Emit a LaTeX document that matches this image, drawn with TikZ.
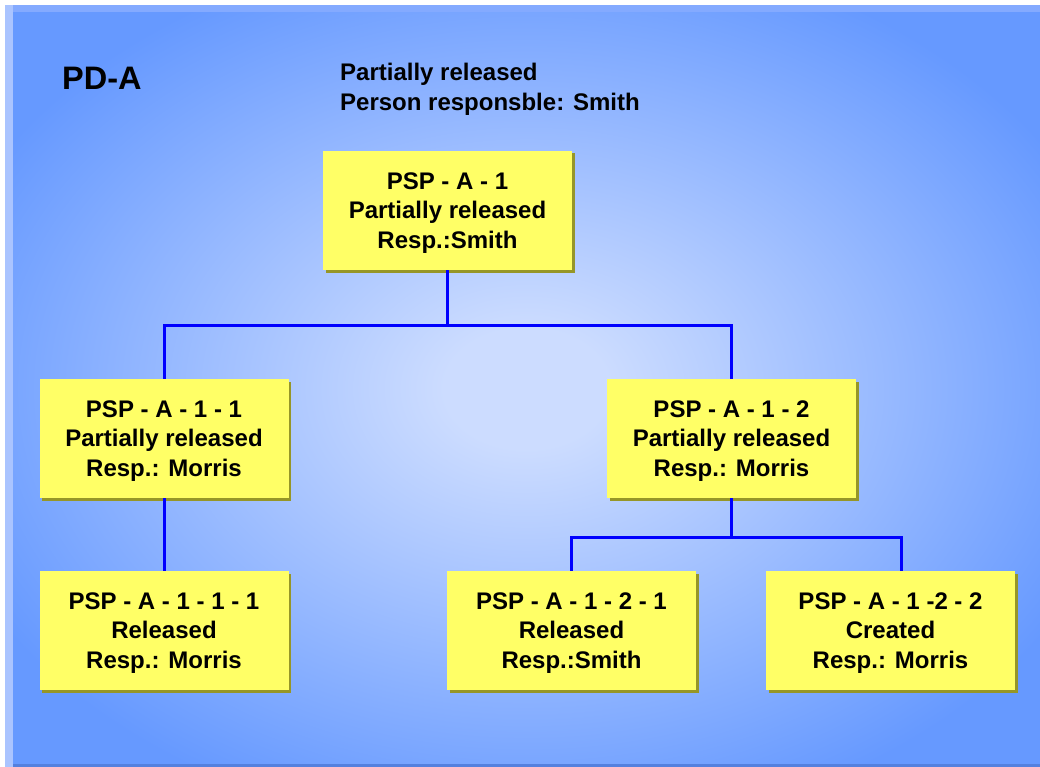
\documentclass[tikz,border=0pt]{standalone}
\usepackage{fontspec}
\setmainfont{Liberation Sans}
\usepackage{tikz}
\usetikzlibrary{shadows}
\definecolor{bgdark}{RGB}{102,153,255}
\definecolor{bglight}{RGB}{204,220,255}
\definecolor{bgtop}{RGB}{132,170,255}
\definecolor{bgleft}{RGB}{170,196,255}
\definecolor{bgbottom}{RGB}{84,128,222}
\definecolor{pspyellow}{RGB}{255,255,102}
\definecolor{pspshade}{RGB}{150,150,40}
\pgfdeclareradialshading{bgglow}{\pgfpoint{0bp}{0bp}}{color(0bp)=(bglight); color(4bp)=(bglight); color(30bp)=(bgdark); color(50bp)=(bgdark)}
\tikzset{font=\bfseries\fontsize{24}{29.5}\selectfont}
\tikzset{pspbox/.style={fill=pspyellow, minimum width=249pt, minimum height=119pt,
    align=center, inner sep=0pt, text depth=0pt,
    drop shadow={shadow xshift=2.5pt, shadow yshift=-2.5pt, fill=pspshade, opacity=1}}}
\tikzset{wire/.style={draw=blue, line width=3pt}}

\begin{document}
\begin{tikzpicture}[x=1pt,y=-1pt]
  \useasboundingbox (0,0) rectangle (1040,767);
  % frame and background
  \fill[white] (0,0) rectangle (1040,767);
  \fill[bgleft] (5,5) rectangle (13,767);
  \fill[bgtop] (13,5) rectangle (1040,13);
  \shade[shading=bgglow] (13,13) rectangle (1040,764);
  \fill[bgbottom] (13,764) rectangle (1040,767);

  % headings
  \node[anchor=base west, inner sep=0pt, font=\bfseries\fontsize{32.5}{38}\selectfont]
    (pda) at (62,90) {PD-A};
  \node[anchor=north west, inner sep=0pt, align=left] (state) at (340,63)
    {Partially released\\Person responsble: Smith};

  % structure
  \node[pspbox] (a1) at (447.5,210.5) {PSP - A - 1\\Partially released\\Resp.:Smith};
  \node[pspbox] (a11) at (164,438.5) {PSP - A - 1 - 1\\Partially released\\Resp.: Morris};
  \node[pspbox] (a12) at (731.5,438.5) {PSP - A - 1 - 2\\Partially released\\Resp.: Morris};
  \node[pspbox] (a111) at (164,630.5) {PSP - A - 1 - 1 - 1\\Released\\Resp.: Morris};
  \node[pspbox] (a121) at (571.5,630.5) {PSP - A - 1 - 2 - 1\\Released\\Resp.:Smith};
  \node[pspbox] (a122) at (890.5,630.5) {PSP - A - 1 -2 - 2\\Created\\Resp.: Morris};

  \coordinate (j1) at (447.5,325);
  \coordinate (j12) at (731.5,537);
  \coordinate (j122) at (901,537);
  \draw[wire] (a1.south) -- (j1);
  \draw[wire] (a11.north) |- (j1) -| (a12.north);
  \draw[wire] (a11.south) -- (a111.north);
  \draw[wire] (a12.south) -- (j12);
  \draw[wire] (a121.north) |- (j12) -- (j122) -- (j122 |- a122.north);
\end{tikzpicture}
\end{document}
